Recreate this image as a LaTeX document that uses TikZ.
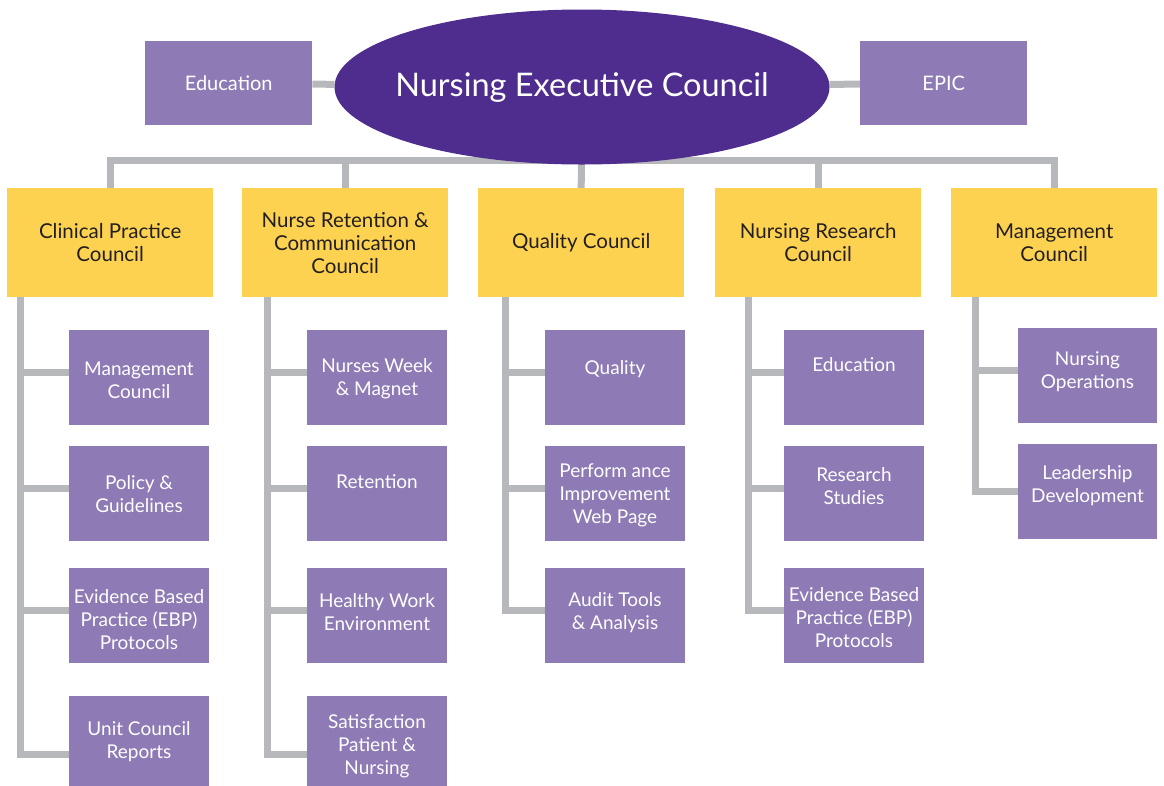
\documentclass[tikz,border=0pt]{standalone}
\usepackage{fontspec}
\setmainfont{Lato}
\usetikzlibrary{shapes.geometric,backgrounds}
\definecolor{necpurple}{HTML}{4F2D8F}
\definecolor{boxpurple}{HTML}{8E7AB5}
\definecolor{councilgold}{HTML}{FDD250}
\definecolor{wiregray}{HTML}{B7B8BB}
\definecolor{inkdark}{HTML}{231F20}

\begin{document}
\begin{tikzpicture}[x=1pt, y=-1pt,
    council/.style={fill=councilgold, minimum width=206pt, minimum height=109pt,
      anchor=north west, inner sep=0pt, text=inkdark, align=center,
      font=\fontsize{20.5}{23}\selectfont},
    sub/.style={fill=boxpurple, minimum width=140pt, minimum height=95pt,
      anchor=north west, inner sep=0pt},
    subtxt/.style={text=white, align=center, font=\fontsize{19}{23}\selectfont},
    side/.style={fill=boxpurple, minimum width=167pt, minimum height=84pt,
      anchor=north west, inner sep=0pt, text=white, font=\fontsize{20}{23}\selectfont},
    wire/.style={draw=wiregray, line width=7pt},
  ]
  \useasboundingbox (0,0) rectangle (1164,785);

  % ---- top: executive council with its two side boxes
  \node[ellipse, fill=necpurple, minimum width=495pt, minimum height=155pt,
        inner sep=0pt] (nec) at (582,87) {};
  \node[text=white, font=\fontsize{32.5}{36}\selectfont] (nect) at (nec.center)
        {Nursing Executive Council};
  \node[side] (edu) at (145,41) {Education};
  \node[side] (epic) at (860,41) {EPIC};

  % ---- the five councils
  \node[council] (cpc) at (7,188)   {Clinical Practice\\Council};
  \node[council] (nrc) at (242,188) {Nurse Retention \&\\Communication\\Council};
  \node[council] (qc)  at (478,188) {Quality Council};
  \node[council] (rc)  at (715,188) {Nursing Research\\Council};
  \node[council] (mc)  at (951,188) {Management\\Council};

  % ---- clinical practice column
  \node[sub] (cp1) at (69,330) {};
  \node[sub] (cp2) at (69,446) {};
  \node[sub] (cp3) at (69,568) {};
  \node[sub] (cp4) at (69,696) {};
  \node[subtxt] (cp1t) at (139,380.5) {Management\\Council};
  \node[subtxt] (cp2t) at (139,494.5) {Policy \&\\Guidelines};
  \node[subtxt] (cp3t) at (139,620)   {Evidence Based\\Practice (EBP)\\Protocols};
  \node[subtxt] (cp4t) at (139,741.5) {Unit Council\\Reports};

  % ---- retention column
  \node[sub] (nr1) at (307,330) {};
  \node[sub] (nr2) at (307,446) {};
  \node[sub] (nr3) at (307,568) {};
  \node[sub] (nr4) at (307,696) {};
  \node[subtxt] (nr1t) at (377,378.5) {Nurses Week\\\& Magnet};
  \node[subtxt] (nr2t) at (377,482)   {Retention};
  \node[subtxt] (nr3t) at (377,612.5) {Healthy Work\\Environment};
  \node[subtxt] (nr4t) at (377,746)   {Satisfaction\\Patient \&\\Nursing};

  % ---- quality column
  \node[sub] (q1) at (545,330) {};
  \node[sub] (q2) at (545,446) {};
  \node[sub] (q3) at (545,568) {};
  \node[subtxt] (q1t) at (615,369)   {Quality};
  \node[subtxt] (q2t) at (615,495)   {Perform ance\\Improvement\\Web Page};
  \node[subtxt] (q3t) at (615,612.5) {Audit Tools\\\& Analysis};

  % ---- research column
  \node[sub] (r1) at (784,330) {};
  \node[sub] (r2) at (784,446) {};
  \node[sub] (r3) at (784,568) {};
  \node[subtxt] (r1t) at (854,365)   {Education};
  \node[subtxt] (r2t) at (854,486.5) {Research\\Studies};
  \node[subtxt] (r3t) at (854,618)   {Evidence Based\\Practice (EBP)\\Protocols};

  % ---- management column
  \node[sub, minimum width=139pt] (m1) at (1018,328) {};
  \node[sub, minimum width=139pt] (m2) at (1018,444) {};
  \node[subtxt] (m1t) at (1087.5,371.5) {Nursing\\Operations};
  \node[subtxt] (m2t) at (1087.5,485.5) {Leadership\\Development};

  % trunk x positions of the columns
  \coordinate (bus) at (583,160);
  \coordinate (t1) at (20,297);
  \coordinate (t2) at (267,297);
  \coordinate (t3) at (505,297);
  \coordinate (t4) at (748,297);
  \coordinate (t5) at (975,297);

  \begin{scope}[on background layer]
    % side boxes and the bus under the ellipse
    \draw[wire] (edu) -- (nec);
    \draw[wire] (epic) -- (nec);
    \draw[wire] (cpc.north) |- (bus) -| (mc.north);
    \draw[wire] (nrc.north) -- (nrc.north |- bus);
    \draw[wire] (qc.north) -- (nec.center);
    \draw[wire] (rc.north) -- (rc.north |- bus);

    % column trunks and branches
    \draw[wire] (t1) |- ([yshift=-11pt]cp4.west);
    \foreach \b in {cp1,cp2,cp3} \draw[wire] ([yshift=5pt]\b.west) -- ([yshift=5pt]\b.west -| t1);
    \draw[wire] (t2) |- ([yshift=-11pt]nr4.west);
    \foreach \b in {nr1,nr2,nr3} \draw[wire] ([yshift=5pt]\b.west) -- ([yshift=5pt]\b.west -| t2);
    \draw[wire] (t3) |- ([yshift=5pt]q3.west);
    \foreach \b in {q1,q2} \draw[wire] ([yshift=5pt]\b.west) -- ([yshift=5pt]\b.west -| t3);
    \draw[wire] (t4) |- ([yshift=5pt]r3.west);
    \foreach \b in {r1,r2} \draw[wire] ([yshift=5pt]\b.west) -- ([yshift=5pt]\b.west -| t4);
    \draw[wire] (t5) |- (m2.west);
    \draw[wire] ([yshift=5pt]m1.west) -- ([yshift=5pt]m1.west -| t5);
  \end{scope}
\end{tikzpicture}
\end{document}
